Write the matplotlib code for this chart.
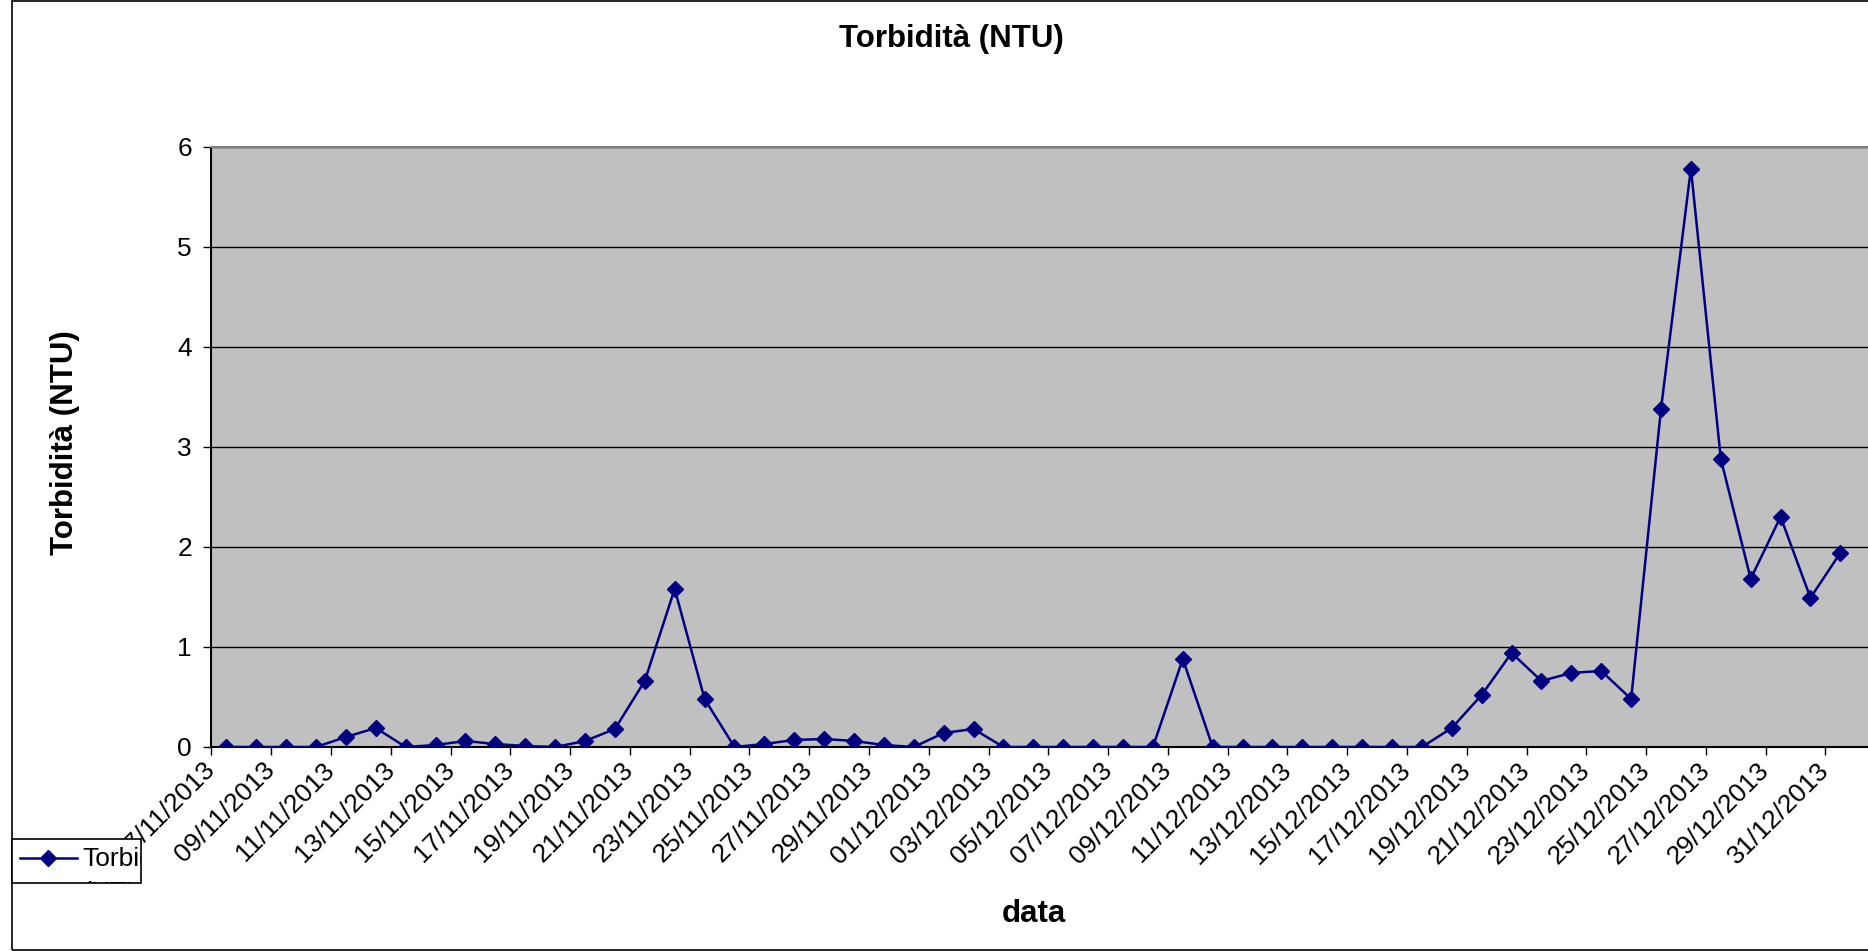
import datetime as dt
import matplotlib
matplotlib.use('Agg')
import matplotlib.pyplot as plt
import matplotlib.transforms as mtransforms
from matplotlib.patches import Rectangle
from matplotlib.lines import Line2D

plt.rcParams['font.family'] = ['Liberation Sans', 'DejaVu Sans']

start = dt.date(2013, 11, 7)
days = [start + dt.timedelta(days=i) for i in range(55)]

torbidita = [0, 0, 0, 0, 0.10, 0.19, 0, 0.02, 0.06, 0.03,
             0.01, 0, 0.06, 0.18, 0.66, 1.58, 0.48, 0, 0.03, 0.07,
             0.08, 0.06, 0.02, 0, 0.14, 0.18, 0, 0, 0, 0,
             0, 0, 0.88, 0, 0, 0, 0, 0, 0, 0,
             0, 0.19, 0.52, 0.94, 0.66, 0.74, 0.76, 0.48, 3.38, 5.78,
             2.88, 1.68, 2.30, 1.49, 1.94]

tick_labels = [d.strftime('%d/%m/%Y') for d in days[::2]]

W, H = 1868, 951
fig = plt.figure(figsize=(W / 100, H / 100), dpi=100)
ax = fig.add_axes([211.4 / W, 1 - 747 / H, 1 - 211.4 / W, 600.5 / H])
ax.set_facecolor('#C0C0C0')

x = list(range(len(days)))
ax.plot(x, torbidita, color='#000080', lw=1.8, marker='D', ms=8.5,
        markerfacecolor='#000080', markeredgecolor='#000080', zorder=3)

ax.set_xlim(-0.5, (W - 226.3) / 29.89)
ax.set_ylim(0, 6)
ax.set_yticks(range(7))
ax.yaxis.grid(True, color='black', lw=1)
ax.set_axisbelow(True)

tick_pos = [i - 0.5 for i in x[::2]]
ax.set_xticks(tick_pos)
ax.set_xticklabels(tick_labels, rotation=45, ha='right', va='center',
                   rotation_mode='anchor')
offset = mtransforms.ScaledTranslation(14 / 100, -25 / 100, fig.dpi_scale_trans)
for lab in ax.get_xticklabels():
    lab.set_transform(lab.get_transform() + offset)

ax.tick_params(axis='both', labelsize=19, length=6, width=1,
               color='black', direction='out')
ax.tick_params(axis='x', pad=8)
ax.tick_params(axis='y', pad=8)

for s in ['left', 'bottom']:
    ax.spines[s].set_color('black')
    ax.spines[s].set_linewidth(1.5)
ax.spines['top'].set_color('#808080')
ax.spines['top'].set_linewidth(1.5)
ax.spines['right'].set_visible(False)

fig.text(951 / W, 1 - 47 / H, 'Torbidità (NTU)', ha='center', va='baseline',
         fontsize=22.5, fontweight='bold')
fig.text(73 / W, 1 - 443 / H, 'Torbidità (NTU)', ha='center', va='baseline',
         rotation=90, rotation_mode='anchor', fontsize=22.5, fontweight='bold')
fig.text(1034 / W, 1 - 914 / H, 'data', ha='center', va='center',
         fontsize=22.5, fontweight='bold')

# chart area border
fig.add_artist(Rectangle((12 / W, 1 / H), 1.0, 949 / H,
                         transform=fig.transFigure, fill=False,
                         edgecolor='black', lw=1.2, zorder=1))

# legend box, text clipped like the original
box = Rectangle((12 / W, 1 - 883 / H), 129 / W, 44 / H,
                transform=fig.transFigure, facecolor='white',
                edgecolor='black', lw=1.2, zorder=5)
fig.add_artist(box)
fig.add_artist(Line2D([20 / W, 77 / W], [1 - 858 / H] * 2,
                      transform=fig.transFigure, color='#000080', lw=1.8,
                      zorder=6))
fig.add_artist(Line2D([48 / W], [1 - 858 / H], transform=fig.transFigure,
                      color='#000080', marker='D', ms=8.5, zorder=6))
for txt, base in [('Torbidità', 866), ('(NTU)', 900)]:
    t = fig.text(82 / W, 1 - base / H, txt, ha='left', va='baseline',
                 fontsize=19, zorder=6)
    t.set_clip_path(box)

fig.savefig('out.png', dpi=100)
